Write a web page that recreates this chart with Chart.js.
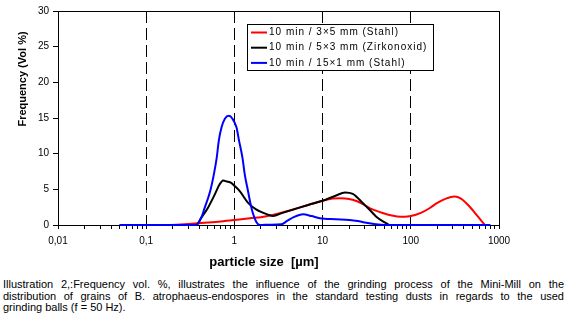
<!DOCTYPE html>
<html>
<head>
<meta charset="utf-8">
<script src="https://cdn.jsdelivr.net/npm/chart.js@4.4.1/dist/chart.umd.min.js"></script>
<style>
body { margin: 0; background: #fff; font-family: 'Liberation Sans', Arial, sans-serif; }
#wrap { position: relative; width: 568px; height: 275px; }
#caption { position: absolute; left: 3px; top: 279px; width: 561px; font-size: 11px; line-height: 11.6px; color: #000; }
#caption .j { text-align: justify; text-align-last: justify; }
</style>
</head>
<body>
<div id="wrap"><canvas id="sizeChart"></canvas></div>
<div id="caption">
  <div class="j">Illustration 2,:Frequency vol. %, illustrates the influence of the grinding process of the Mini-Mill on the</div>
  <div class="j">distribution of grains of B. atrophaeus-endospores in the standard testing dusts in regards to the used</div>
  <div>grinding balls (f = 50 Hz).</div>
</div>
<script>
// particle size (µm) / frequency (vol %) per grinding setup
var stahl35Size = [0.19, 0.3, 0.5, 0.7, 1.0, 1.5, 2.0, 2.7, 3.5, 5, 7, 10, 13, 16, 20, 25, 30, 35, 45, 57, 70, 85, 100, 130, 163, 200, 250, 313, 370, 463, 575, 690];
var stahl35Freq = [0, 0.15, 0.35, 0.5, 0.7, 0.95, 1.1, 1.4, 1.75, 2.3, 2.85, 3.4, 3.7, 3.75, 3.65, 3.3, 2.8, 2.3, 1.8, 1.4, 1.2, 1.15, 1.25, 1.7, 2.35, 3.1, 3.7, 4.0, 3.7, 2.6, 1.2, 0];

var zirk53Size = [0.05, 0.37, 0.42, 0.5, 0.6, 0.68, 0.745, 0.82, 0.92, 1.0, 1.15, 1.43, 1.78, 2.41, 2.74, 3.5, 5, 7, 10, 14, 18, 22, 28.7, 35, 40.6, 50, 57];
var zirk53Freq = [0, 0, 1.0, 2.4, 4.3, 5.7, 6.25, 6.1, 5.9, 5.5, 4.75, 3.1, 2.15, 1.45, 1.27, 1.7, 2.3, 2.85, 3.4, 4.1, 4.55, 4.35, 3.06, 2.0, 1.17, 0.4, 0];

var stahl151Size = [0.05, 0.37, 0.42, 0.46, 0.53, 0.585, 0.63, 0.665, 0.715, 0.78, 0.865, 0.95, 1.055, 1.13, 1.235, 1.31, 1.43, 1.56, 1.78, 1.95, 2.5, 3.4, 4.0, 4.7, 6.0, 7.5, 9.3, 14, 20, 25, 30, 40, 50, 800];
var stahl151Freq = [0, 0, 1.0, 2.4, 4.7, 7.1, 9.4, 11.8, 13.7, 14.9, 15.3, 14.9, 13.7, 11.8, 9.4, 7.1, 4.7, 2.4, 0.4, 0, 0.05, 0.1, 0.6, 1.1, 1.5, 1.25, 0.95, 0.8, 0.7, 0.55, 0.35, 0.1, 0, 0];

var seriesLabels = ['10 min / 3×5 mm (Stahl)', '10 min / 5×3 mm (Zirkonoxid)', '10 min / 15×1 mm (Stahl)'];
var xDecades = [0.01, 0.1, 1, 10, 100, 1000];
var xGridDecades = [0.1, 1, 10, 100];

var fontFamily = "'Liberation Sans', Arial, sans-serif";
Chart.defaults.font.family = fontFamily;
Chart.defaults.color = '#000';

function toPoints(xs, ys) {
    return xs.map(function(x, i) { return {x: x, y: ys[i]}; });
}

// plot frame around the chart area
var frame = {
    id: 'frame',
    beforeDatasetsDraw: function(chart) {
        var ctx = chart.ctx, a = chart.chartArea;
        ctx.save();
        ctx.strokeStyle = '#000';
        ctx.lineWidth = 1;
        ctx.strokeRect(a.left + 0.5, a.top + 0.5, a.right - a.left, a.bottom - a.top);
        ctx.restore();
    }
};

// boxed legend inside the plot
var boxLegend = {
    id: 'boxLegend',
    afterDatasetsDraw: function(chart) {
        var ctx = chart.ctx, a = chart.chartArea;
        var x = a.left + 189, y = a.top + 13, w = 186, h = 46;
        ctx.save();
        ctx.fillStyle = '#fff';
        ctx.fillRect(x, y, w, h);
        ctx.strokeStyle = '#000';
        ctx.lineWidth = 1;
        ctx.strokeRect(x + 0.5, y + 0.5, w, h);
        ctx.font = '10px ' + fontFamily;
        ctx.letterSpacing = '1px';
        ctx.textBaseline = 'middle';
        chart.data.datasets.forEach(function(ds, i) {
            var ry = y + 8.5 + i * 15.2;
            ctx.strokeStyle = ds.borderColor;
            ctx.lineWidth = 2;
            ctx.beginPath();
            ctx.moveTo(x + 4, ry);
            ctx.lineTo(x + 20, ry);
            ctx.stroke();
            ctx.fillStyle = '#000';
            ctx.fillText(ds.label, x + 22, ry);
        });
        ctx.restore();
    }
};

// axis titles
var axisTitles = {
    id: 'axisTitles',
    afterDraw: function(chart) {
        var ctx = chart.ctx, a = chart.chartArea;
        ctx.save();
        ctx.fillStyle = '#000';
        ctx.textAlign = 'center';
        ctx.textBaseline = 'middle';
        ctx.font = 'bold 13px ' + fontFamily;
        ctx.fillText('particle size  [µm]', a.left + 206, a.bottom + 37);
        ctx.translate(a.left - 35, a.top + 68);
        ctx.rotate(-Math.PI / 2);
        ctx.font = 'bold 11px ' + fontFamily;
        ctx.fillText('Frequency (Vol %)', 0, 0);
        ctx.restore();
    }
};

var sizeChart = new Chart(document.getElementById('sizeChart'), {
    type: 'line',
    data: {
        datasets: [{
            label: seriesLabels[0],
            data: toPoints(stahl35Size, stahl35Freq),
            borderColor: '#ff0000',
            order: 3
        }, {
            label: seriesLabels[1],
            data: toPoints(zirk53Size, zirk53Freq),
            borderColor: '#000000',
            order: 2
        }, {
            label: seriesLabels[2],
            data: toPoints(stahl151Size, stahl151Freq),
            borderColor: '#0000ff',
            order: 1
        }]
    },
    options: {
        responsive: true,
        maintainAspectRatio: false,
        animation: false,
        layout: {
            padding: {left: 0, right: 69, top: 11, bottom: 0}
        },
        elements: {
            point: { radius: 0 },
            line: { borderWidth: 2, tension: 0.4, cubicInterpolationMode: 'monotone', fill: false }
        },
        datasets: {
            line: { clip: false }
        },
        scales: {
            x: {
                type: 'logarithmic',
                min: 0.01,
                max: 1000,
                afterBuildTicks: function(scale) {
                    var ticks = [];
                    for (var d = 0; d < xDecades.length - 1; d++) {
                        for (var m = 1; m < 10; m++) {
                            ticks.push({value: xDecades[d] * m});
                        }
                    }
                    ticks.push({value: xDecades[xDecades.length - 1]});
                    scale.ticks = ticks;
                },
                afterFit: function(scale) { scale.height = 50; },
                ticks: {
                    autoSkip: false,
                    maxRotation: 0,
                    padding: 6,
                    font: { size: 10 },
                    callback: function(value) {
                        return xDecades.indexOf(value) >= 0 ? String(value).replace('.', ',') : '';
                    }
                },
                grid: {
                    color: function(ctx) {
                        return ctx.tick && xGridDecades.indexOf(ctx.tick.value) >= 0 ? '#000' : 'rgba(0,0,0,0)';
                    },
                    tickColor: '#000',
                    tickLength: 4
                },
                border: { color: '#000', dash: [12, 5] }
            },
            y: {
                min: 0,
                max: 30,
                afterFit: function(scale) { scale.width = 58; },
                ticks: {
                    stepSize: 5,
                    padding: 4,
                    font: { size: 10 }
                },
                grid: {
                    drawOnChartArea: false,
                    color: '#000',
                    tickLength: 5
                },
                border: { color: '#000' }
            }
        },
        plugins: {
            legend: { display: false },
            tooltip: { enabled: false }
        }
    },
    plugins: [frame, boxLegend, axisTitles]
});
</script>
</body>
</html>
